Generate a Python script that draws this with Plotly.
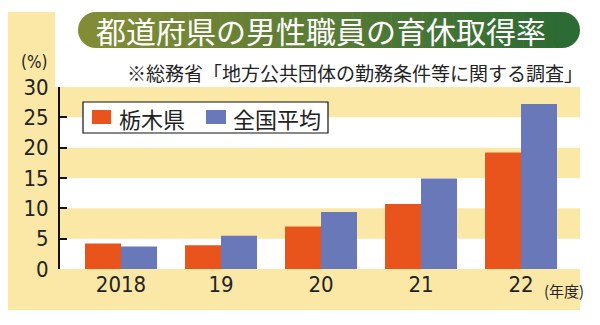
import plotly.graph_objects as go

# ---- data ----
years = ["2018", "19", "20", "21", "22"]
tochigi = [4.2, 3.9, 7.0, 10.7, 19.2]
national = [3.7, 5.5, 9.4, 14.9, 27.2]
series_names = ["栃木県", "全国平均"]
y_ticks = [0, 5, 10, 15, 20, 25, 30]

title_text = "都道府県の男性職員の育休取得率"
source_text = "※総務省「地方公共団体の勤務条件等に関する調査」"
unit_y = "(%)"
unit_x = "(年度)"

# ---- style ----
W, H = 600, 325
L, R, T, B = 60, 20, 87, 56
PW, PH = W - L - R, H - T - B
YELLOW = "#fbe8a6"
ORANGE = "#e8541c"
BLUE = "#6878b8"
COLORS = [ORANGE, BLUE]
CJK = "Noto Sans CJK JP"
NUM = "Liberation Sans Narrow, DejaVu Sans Condensed, Roboto, sans-serif"


def px(x):
    return (x - L) / PW


def py(y):
    return (H - B - y) / PH


shapes = []
# yellow frame
shapes.append(dict(type="rect", xref="paper", yref="paper", x0=px(8), x1=px(580), y0=py(310), y1=py(12),
                   fillcolor=YELLOW, line=dict(width=0), layer="below"))
# white top region
shapes.append(dict(type="rect", xref="paper", yref="paper", x0=px(55), x1=px(580), y0=py(87), y1=py(12),
                   fillcolor="white", line=dict(width=0), layer="below"))
# white plot area
shapes.append(dict(type="rect", xref="paper", yref="y", x0=0, x1=1, y0=0, y1=30,
                   fillcolor="white", line=dict(width=0), layer="below"))
# yellow stripes
for lo in (5, 15, 25):
    shapes.append(dict(type="rect", xref="paper", yref="y", x0=0, x1=1, y0=lo, y1=lo + 5,
                       fillcolor=YELLOW, line=dict(width=0), layer="below"))

# title pill with gradient
c0 = (0x82, 0x8c, 0x36)
c1 = (0x2d, 0x6b, 0x34)
pl, pr, pt, pb = 78, 580, 12, 48
rad = (pb - pt) / 2


def col(t):
    return "rgb(%d,%d,%d)" % tuple(round(a + (b - a) * t) for a, b in zip(c0, c1))


shapes.append(dict(type="circle", xref="paper", yref="paper", x0=px(pl), x1=px(pl + 2 * rad),
                   y0=py(pb), y1=py(pt), fillcolor=col(0), line=dict(width=0), layer="above"))
shapes.append(dict(type="circle", xref="paper", yref="paper", x0=px(pr - 2 * rad), x1=px(pr),
                   y0=py(pb), y1=py(pt), fillcolor=col(1), line=dict(width=0), layer="above"))
N = 60
xs0, xs1 = pl + rad, pr - rad
for i in range(N):
    a = xs0 + (xs1 - xs0) * i / N
    b = xs0 + (xs1 - xs0) * (i + 1) / N + 0.6
    shapes.append(dict(type="rect", xref="paper", yref="paper", x0=px(a), x1=px(min(b, xs1)),
                       y0=py(pb), y1=py(pt), fillcolor=col((i + 0.5) / N), line=dict(width=0), layer="above"))

# manual legend box
shapes.append(dict(type="rect", xref="paper", yref="paper", x0=px(83), x1=px(328), y0=py(133), y1=py(102),
                   fillcolor="white", line=dict(color="#111", width=1.2), layer="above"))
leg_sq = [(92, 111), (206, 226)]
leg_tx = [117, 231]
for (a, b), c in zip(leg_sq, COLORS):
    shapes.append(dict(type="rect", xref="paper", yref="paper", x0=px(a), x1=px(b), y0=py(124), y1=py(110),
                       fillcolor=c, line=dict(width=0), layer="above"))

annotations = [
    dict(text=title_text, xref="paper", yref="paper", x=px((pl + pr) / 2 - 8), y=py((pt + pb) / 2),
         xanchor="center", yanchor="middle", showarrow=False,
         font=dict(family=CJK, size=30, color="white")),
    dict(text=source_text, xref="paper", yref="paper", x=px(585), y=py(72),
         xanchor="right", yanchor="middle", showarrow=False,
         font=dict(family=CJK, size=19, color="#222")),
    dict(text=unit_y, xref="paper", yref="paper", x=px(34), y=py(62),
         xanchor="center", yanchor="middle", showarrow=False,
         font=dict(family=NUM, size=17, color="#222")),
    dict(text=unit_x, xref="paper", yref="paper", x=px(542), y=py(290),
         xanchor="left", yanchor="middle", showarrow=False,
         font=dict(family=CJK, size=15, color="#222")),
]
for name, x in zip(series_names, leg_tx):
    annotations.append(dict(text=name, xref="paper", yref="paper", x=px(x), y=py(117.5),
                            xanchor="left", yanchor="middle", showarrow=False,
                            font=dict(family=CJK, size=22, color="#222")))

fig = go.Figure()
for name, vals, c in zip(series_names, [tochigi, national], COLORS):
    fig.add_trace(go.Bar(x=years, y=vals, name=name, marker=dict(color=c, line=dict(width=0))))

fig.update_layout(
    width=W, height=H,
    margin=dict(l=L, r=R, t=T, b=B),
    paper_bgcolor="white",
    plot_bgcolor="rgba(0,0,0,0)",
    barmode="group", bargap=0.28, bargroupgap=0,
    shapes=shapes,
    annotations=annotations,
    showlegend=False,
    xaxis=dict(range=[-0.61, 4.59], showline=False, ticks="", showgrid=False,
               tickfont=dict(family=NUM, size=22, color="#222"), fixedrange=True),
    yaxis=dict(range=[0, 30], tickvals=y_ticks, showgrid=False, zeroline=False,
               showline=True, linecolor="#111", linewidth=2,
               ticks="inside", ticklen=7, tickwidth=2, tickcolor="#111",
               ticklabelstandoff=5,
               tickfont=dict(family=NUM, size=22, color="#222"), fixedrange=True),
)

fig.write_html("out.html")
